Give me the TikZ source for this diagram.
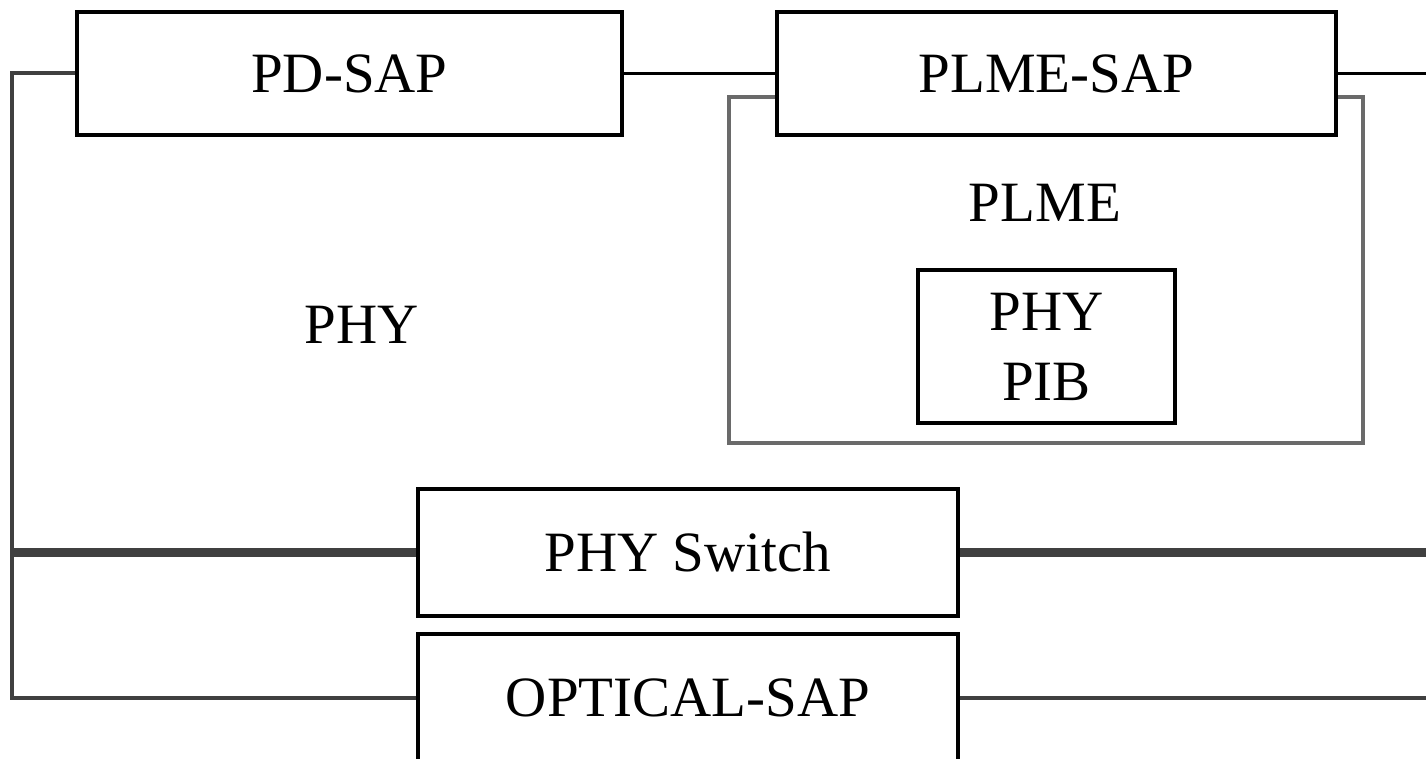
\documentclass[tikz,border=0pt]{standalone}
\usepackage{fontspec}
\setmainfont{Liberation Serif}
\definecolor{dk}{HTML}{404040}
\definecolor{gr}{HTML}{6A6A6A}
\begin{document}
\begin{tikzpicture}[x=0.5pt,y=-0.5pt,
  lbl/.style={font=\fontsize{28.5}{35}\selectfont, inner sep=0pt},
  boxn/.style={draw=black, line width=2pt, fill=white, inner sep=0pt, font=\fontsize{28.5}{35}\selectfont, align=center},
  conn/.style={line width=1.5pt, black},
  bus/.style={line width=2pt, dk},
  thickbus/.style={line width=4.5pt, dk}]
\useasboundingbox (0,0) rectangle (1426,759);
\clip (0,0) rectangle (1426,759);
\fill[white] (0,0) rectangle (1426,759);
% PLME container
\node[draw=gr, line width=2pt, inner sep=0pt, minimum width=317pt, minimum height=173pt] (plme) at (1046,270) {};
\node[lbl] (plmelbl) at (1045,203) {PLME};
\node[boxn, minimum width=128.5pt, minimum height=76.5pt] (pib) at (1046.5,346.5) {PHY\\PIB};
\node[lbl] (phy) at (362,325) {PHY};
% SAP boxes
\node[boxn, minimum width=272.5pt, minimum height=61.5pt] (pd) at (349.5,73.5) {PD-SAP};
\node[boxn, minimum width=279.5pt, minimum height=61.5pt] (plmesap) at (1056.5,73.5) {PLME-SAP};
\node[boxn, minimum width=270pt, minimum height=63.5pt] (sw) at (688,552.5) {PHY Switch};
\node[boxn, minimum width=270pt, minimum height=63.5pt] (opt) at (688,697.5) {OPTICAL-SAP};
% coordinates
\coordinate (L) at (12,73.5);
\coordinate (R) at (1426,73.5);
% connectors
\draw[conn] (pd.east) -- (plmesap.west);
\draw[conn] (plmesap.east) -- (R);
\draw[bus, line join=miter] (pd.west) -- (L) |- (opt.west);
\draw[thickbus] (L |- sw.west) -- (sw.west);
\draw[thickbus] (sw.east) -- (sw.east -| R);
\draw[bus] (opt.east) -- (opt.east -| R);
\end{tikzpicture}
\end{document}
